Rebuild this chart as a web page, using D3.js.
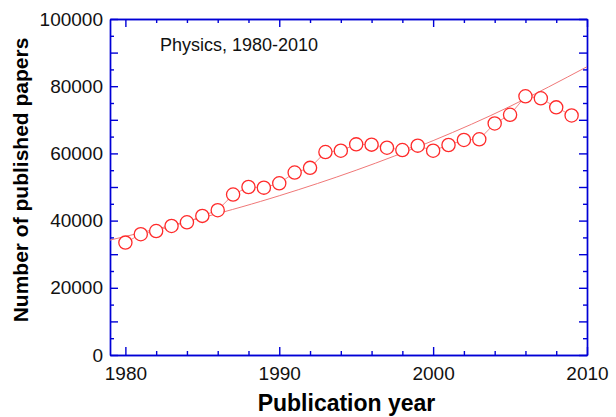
<!DOCTYPE html>
<html>
<head>
<meta charset="utf-8">
<script src="https://cdn.jsdelivr.net/npm/d3@7"></script>
<style>
  body { margin: 0; background: #fff; }
  svg { font-family: "Liberation Sans", Arial, sans-serif; }
</style>
</head>
<body>
<div class="chart"></div>
<script>
// yearly paper counts
var years = [1980, 1981, 1982, 1983, 1984, 1985, 1986, 1987, 1988, 1989,
             1990, 1991, 1992, 1993, 1994, 1995, 1996, 1997, 1998, 1999,
             2000, 2001, 2002, 2003, 2004, 2005, 2006, 2007, 2008, 2009];
var papers = [33450, 35950, 36900, 38400, 39500, 41400, 43100, 47750, 50000, 49800,
              51100, 54300, 55700, 60400, 60800, 62700, 62600, 61700, 61000, 62300,
              60800, 62500, 64000, 64200, 68900, 71500, 77000, 76400, 73700, 71300];

// fitted trend curve
var fitYears = [1979, 1985, 1990, 1995, 2000, 2005, 2010];
var fitValues = [34200, 40900, 47400, 55000, 63800, 74000, 85800];

var xMajor = [1980, 1990, 2000, 2010];
var xMinor = [1982, 1984, 1986, 1988, 1992, 1994, 1996, 1998, 2002, 2004, 2006, 2008];
var yLabels = [0, 20000, 40000, 60000, 80000, 100000];

var width = 616;
var height = 417;
var margin = {top: 19, right: 29, bottom: 62, left: 110};
var w = width - margin.left - margin.right;
var h = height - margin.top - margin.bottom;
var blue = "#0000d6";

var svg = d3.select(".chart")
  .append("svg")
  .attr("width", width)
  .attr("height", height)
  .append("g")
  .attr("transform", `translate(${margin.left},${margin.top})`);

var x = d3.scaleLinear().domain([1979, 2010]).range([0, w]);
var y = d3.scaleLinear().domain([0, 100000]).range([h, 0]);

var yMajor = d3.range(0, 100001, 10000);
var yMinor = d3.range(5000, 100000, 10000);

function styleAxis(g) {
  g.selectAll("path, line").attr("stroke", blue).attr("stroke-width", 1.4);
  g.selectAll("text").style("font-size", "19px").attr("fill", "#111");
}

// bottom axis with labels
svg.append("g")
  .attr("transform", `translate(0,${h})`)
  .call(d3.axisBottom(x).tickValues(xMajor).tickSizeInner(-8).tickSizeOuter(0)
    .tickPadding(12).tickFormat(d3.format("d")))
  .call(styleAxis);
svg.append("g")
  .attr("transform", `translate(0,${h})`)
  .call(d3.axisBottom(x).tickValues(xMinor).tickSizeInner(-4).tickSizeOuter(0).tickFormat(""))
  .call(styleAxis);

// top mirror
svg.append("g")
  .call(d3.axisTop(x).tickValues(xMajor).tickSizeInner(-8).tickSizeOuter(0).tickFormat(""))
  .call(styleAxis);
svg.append("g")
  .call(d3.axisTop(x).tickValues(xMinor).tickSizeInner(-4).tickSizeOuter(0).tickFormat(""))
  .call(styleAxis);

// left axis with labels
svg.append("g")
  .call(d3.axisLeft(y).tickValues(yMajor).tickSizeInner(-8).tickSizeOuter(0)
    .tickPadding(7).tickFormat(d => yLabels.includes(d) ? d : ""))
  .call(styleAxis);
svg.append("g")
  .call(d3.axisLeft(y).tickValues(yMinor).tickSizeInner(-4).tickSizeOuter(0).tickFormat(""))
  .call(styleAxis);

// right mirror
svg.append("g")
  .attr("transform", `translate(${w},0)`)
  .call(d3.axisRight(y).tickValues(yMajor).tickSizeInner(-8).tickSizeOuter(0).tickFormat(""))
  .call(styleAxis);
svg.append("g")
  .attr("transform", `translate(${w},0)`)
  .call(d3.axisRight(y).tickValues(yMinor).tickSizeInner(-4).tickSizeOuter(0).tickFormat(""))
  .call(styleAxis);

// trend curve
svg.append("path")
  .datum(fitYears.map((d, i) => [d, fitValues[i]]))
  .attr("fill", "none")
  .attr("stroke", "#f07878")
  .attr("stroke-width", 1)
  .attr("d", d3.line().x(d => x(d[0])).y(d => y(d[1])).curve(d3.curveNatural));

// data line + markers
var pts = years.map((d, i) => [d, papers[i]]);
svg.append("path")
  .datum(pts)
  .attr("fill", "none")
  .attr("stroke", "#f08c8c")
  .attr("stroke-width", 1)
  .attr("d", d3.line().x(d => x(d[0])).y(d => y(d[1])));

svg.selectAll(".pt")
  .data(pts)
  .enter().append("circle")
  .attr("class", "pt")
  .attr("cx", d => x(d[0]))
  .attr("cy", d => y(d[1]))
  .attr("r", 6.6)
  .attr("fill", "#fff")
  .attr("stroke", "#ff2a2a")
  .attr("stroke-width", 1.3);

// annotation
svg.append("text")
  .attr("x", 50)
  .attr("y", 32)
  .style("font-size", "18px")
  .attr("fill", "#111")
  .text("Physics, 1980-2010");

// axis titles
svg.append("text")
  .attr("text-anchor", "middle")
  .attr("x", w / 2 - 2)
  .attr("y", h + 56)
  .style("font-size", "23px")
  .style("font-weight", "bold")
  .text("Publication year");

svg.append("text")
  .attr("text-anchor", "middle")
  .attr("transform", `translate(${-82},${h / 2 - 7}) rotate(-90)`)
  .style("font-size", "21px")
  .style("font-weight", "bold")
  .text("Number of published papers");
</script>
</body>
</html>
